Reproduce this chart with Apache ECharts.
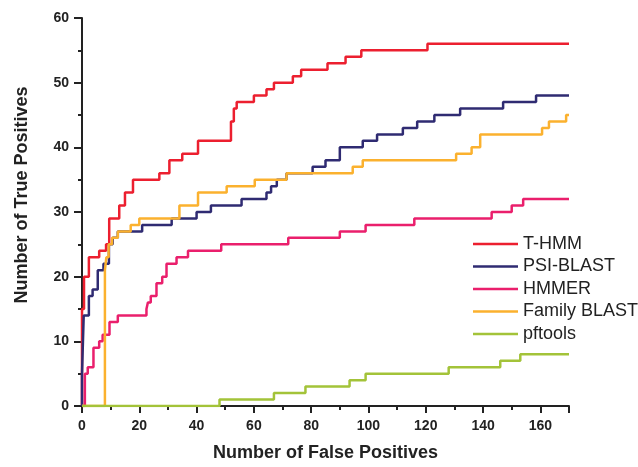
<!DOCTYPE html>
<html>
<head>
<meta charset="utf-8">
<script src="https://cdn.jsdelivr.net/npm/echarts@6/dist/echarts.min.js"></script>
<style>
html,body{margin:0;padding:0;background:#fff;}
#chart{width:638px;height:467px;}
</style>
</head>
<body>
<div id="chart"></div>
<script>
// Series names (legend order)
const seriesNames = ['T-HMM', 'PSI-BLAST', 'HMMER', 'Family BLAST', 'pftools'];

// Step curves: x = number of false positives, y = number of true positives
const thmmX = [0, 0, 0.7, 2.4, 6, 8.4, 9.5, 13, 15, 17.8, 27, 30.5, 35, 40.5, 52, 53, 54, 60, 64.4, 67, 73.6, 76.5, 85.7, 92, 97.5, 120.6, 170];
const thmmY = [0, 15, 20, 23, 24, 25, 29, 31, 33, 35, 36, 38, 39, 41, 44, 46, 47, 48, 49, 50, 51, 52, 53, 54, 55, 56, 56];

const psiX = [0, 0, 0.6, 2.4, 3.7, 5.5, 7.5, 9.4, 10.7, 12.5, 21, 31.3, 40, 45, 55.7, 64.4, 66, 68, 71.4, 80.5, 85, 90, 98, 103, 112, 117, 123, 132, 147, 158.5, 170];
const psiY = [0, 5, 14, 17, 18, 21, 22, 25, 26, 27, 28, 29, 30, 31, 32, 33, 34, 35, 36, 37, 38, 40, 41, 42, 43, 44, 45, 46, 47, 48, 48];

const hmmerX = [0, 1, 2, 4, 6, 7.2, 9.6, 12.5, 22.5, 23, 24, 26, 28, 29.5, 33, 37, 48.6, 72, 90, 99, 116, 143, 150, 154, 170];
const hmmerY = [0, 5, 6, 9, 10, 11, 13, 14, 15, 16, 17, 19, 20, 22, 23, 24, 25, 26, 27, 28, 29, 30, 31, 32, 32];

const familyX = [0, 8, 8, 8.5, 9.3, 10.5, 12.5, 17, 20, 34, 40.5, 50.5, 60.3, 71.4, 94.5, 98, 130.6, 136, 139, 160.6, 163, 169, 170];
const familyY = [0, 0, 21, 23, 25, 26, 27, 28, 29, 31, 33, 34, 35, 36, 37, 38, 39, 40, 42, 43, 44, 45, 45];

const pftoolsX = [0, 48, 67, 78, 93.4, 99, 128, 146, 153, 170];
const pftoolsY = [0, 1, 2, 3, 4, 5, 6, 7, 8, 8];

const xTitle = 'Number of False Positives';
const yTitle = 'Number of True Positives';

const colors = ['#ec1f2f', '#2f2b72', '#ea1f6c', '#fbb12e', '#a3c339'];
const curves = [[thmmX, thmmY], [psiX, psiY], [hmmerX, hmmerY], [familyX, familyY], [pftoolsX, pftoolsY]];

function pairs(xs, ys) { return xs.map((x, i) => [x, ys[i]]); }

const font = '"Liberation Sans", Arial, sans-serif';
const chart = echarts.init(document.getElementById('chart'), null, {renderer: 'canvas'});
chart.setOption({
  animation: false,
  backgroundColor: '#ffffff',
  color: colors,
  grid: {left: 82, right: 69, top: 18, bottom: 56, containLabel: false},
  legend: {
    orient: 'vertical',
    left: 468,
    top: 229,
    itemWidth: 45,
    itemHeight: 2.5,
    itemGap: 2.5,
    icon: 'rect',
    data: seriesNames,
    textStyle: {fontFamily: font, fontSize: 18, color: '#222', lineHeight: 20}
  },
  xAxis: {
    type: 'value',
    min: 0, max: 170, interval: 20,
    name: xTitle,
    nameLocation: 'middle',
    nameGap: 38,
    nameTextStyle: {fontFamily: font, fontSize: 18, fontWeight: 'bold', color: '#222'},
    axisLine: {show: true, onZero: false, lineStyle: {color: '#222', width: 2}},
    axisTick: {show: true, length: 7, lineStyle: {color: '#222', width: 2}},
    minorTick: {show: true, splitNumber: 2, length: 4, lineStyle: {color: '#222', width: 2}},
    splitLine: {show: false},
    axisLabel: {margin: 13, showMaxLabel: false, fontFamily: font, fontSize: 14, fontWeight: 'bold', color: '#222'}
  },
  yAxis: {
    type: 'value',
    min: 0, max: 60, interval: 10,
    axisLine: {show: true, onZero: false, lineStyle: {color: '#222', width: 2}},
    axisTick: {show: true, length: 8, lineStyle: {color: '#222', width: 2}},
    minorTick: {show: true, splitNumber: 2, length: 4, lineStyle: {color: '#222', width: 2}},
    splitLine: {show: false},
    axisLabel: {margin: 13, fontFamily: font, fontSize: 14, fontWeight: 'bold', color: '#222'}
  },
  graphic: [{
    type: 'text',
    x: 22, y: 195,
    rotation: Math.PI / 2,
    style: {text: yTitle, fontFamily: font, fontSize: 18, fontWeight: 'bold', fill: '#222', align: 'center', verticalAlign: 'middle'}
  }],
  series: curves.map((c, i) => ({
    name: seriesNames[i],
    type: 'line',
    step: 'end',
    showSymbol: false,
    symbol: 'none',
    data: pairs(c[0], c[1]),
    lineStyle: {width: 2.5, color: colors[i]},
    itemStyle: {color: colors[i]}
  }))
});
</script>
</body>
</html>
